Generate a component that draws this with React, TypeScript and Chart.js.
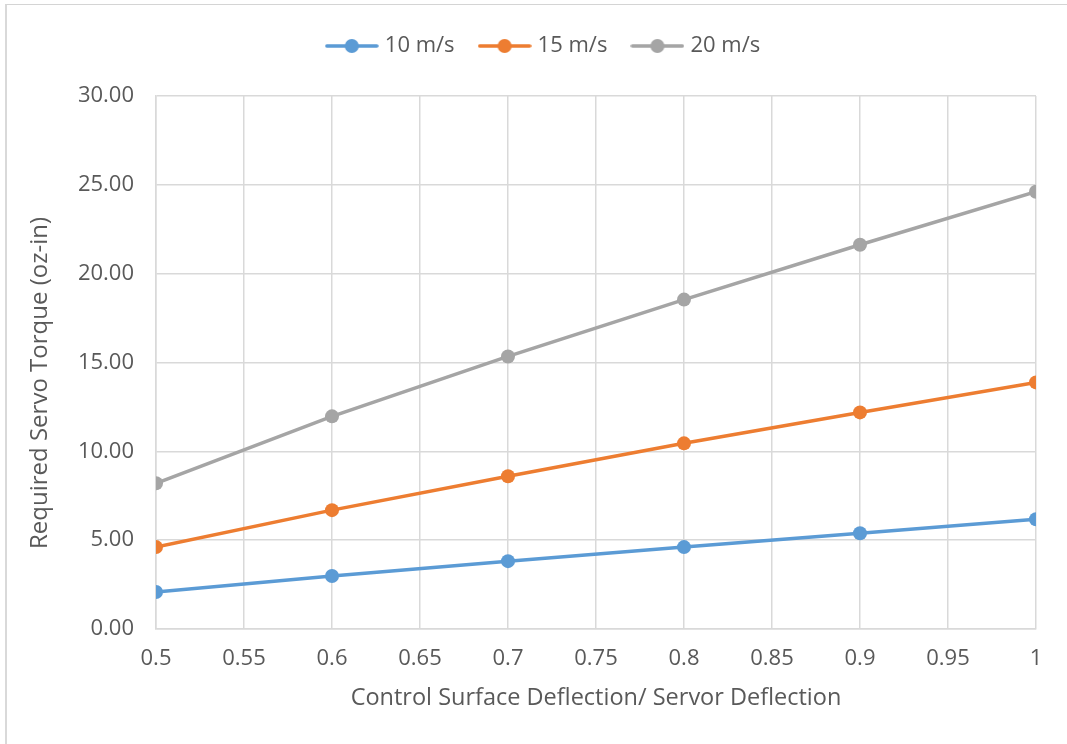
import React, { useEffect, useRef } from "react";
import { Chart, registerables } from "chart.js";

Chart.register(...registerables);

const deflection = [0.5, 0.6, 0.7, 0.8, 0.9, 1.0];
const series10 = [2.08, 2.98, 3.82, 4.61, 5.39, 6.18];
const series15 = [4.61, 6.69, 8.6, 10.45, 12.19, 13.88];
const series20 = [8.2, 11.97, 15.34, 18.54, 21.63, 24.61];
const seriesNames = ["10 m/s", "15 m/s", "20 m/s"];
const seriesColors = ["#5B9BD5", "#ED7D31", "#A5A5A5"];
const xTitle = "Control Surface Deflection/ Servor Deflection";
const yTitle = "Required Servo Torque (oz-in)";

const FONT = "'Open Sans', 'Noto Sans', sans-serif";
const TEXT = "#595959";
const GRID = "#d9d9d9";

function legendImage(color: string) {
  const c = document.createElement("canvas");
  c.width = 54;
  c.height = 16;
  const ctx = c.getContext("2d")!;
  ctx.strokeStyle = color;
  ctx.lineWidth = 3.5;
  ctx.lineCap = "round";
  ctx.beginPath();
  ctx.moveTo(2, 8);
  ctx.lineTo(52, 8);
  ctx.stroke();
  ctx.fillStyle = color;
  ctx.beginPath();
  ctx.arc(27, 8, 7, 0, Math.PI * 2);
  ctx.fill();
  return c;
}

const legendSpacer = {
  id: "legendSpacer",
  beforeInit(chart: any) {
    const lg = chart.legend;
    if (!lg) return;
    const orig = lg.fit;
    lg.fit = function () {
      orig.call(this);
      this.height += 29;
    };
  },
  beforeDraw(chart: any) {
    const lg = chart.legend;
    if (!lg || lg._shifted) return;
    lg.left += 17;
    lg.right += 17;
    lg._shifted = true;
  },
};

const yTitlePlugin = {
  id: "yTitlePlugin",
  afterDraw(chart: any) {
    const ctx = chart.ctx;
    ctx.save();
    ctx.translate(40, 383);
    ctx.rotate(-Math.PI / 2);
    ctx.font = `24px ${FONT}`;
    ctx.fillStyle = TEXT;
    ctx.textAlign = "center";
    ctx.textBaseline = "middle";
    ctx.fillText(yTitle, 0, 0);
    ctx.restore();
  },
};

export default function App() {
  const ref = useRef<HTMLCanvasElement>(null);
  useEffect(() => {
    const all = [series10, series15, series20];
    const imgs = seriesColors.map(legendImage);
    const chart = new Chart(ref.current!, {
      type: "line",
      data: {
        datasets: all.map((vals, i) => ({
          label: seriesNames[i],
          data: deflection.map((x, j) => ({ x, y: vals[j] })),
          borderColor: seriesColors[i],
          backgroundColor: seriesColors[i],
          borderWidth: 3.5,
          pointRadius: 7,
          pointHoverRadius: 7,
          pointBorderWidth: 0,
          pointStyle: "circle",
          tension: 0,
        })),
      },
      plugins: [legendSpacer, yTitlePlugin],
      options: {
        responsive: false,
        animation: false,
        layout: { padding: { left: 20, right: 31, top: 7, bottom: 22 } },
        plugins: {
          tooltip: { enabled: false },
          legend: {
            position: "top",
            labels: {
              usePointStyle: true,
              pointStyleWidth: 44,
              padding: 28,
              color: TEXT,
              font: { family: FONT, size: 22 },
              generateLabels: (ch: any) =>
                ch.data.datasets.map((d: any, i: number) => ({
                  text: d.label,
                  pointStyle: imgs[i],
                  fillStyle: seriesColors[i],
                  strokeStyle: seriesColors[i],
                  lineWidth: 0,
                  fontColor: TEXT,
                  hidden: false,
                  datasetIndex: i,
                })),
            },
          },
        },
        scales: {
          x: {
            type: "linear",
            min: 0.5,
            max: 1,
            ticks: {
              stepSize: 0.05,
              color: TEXT,
              font: { family: FONT, size: 22 },
              padding: 17,
              maxRotation: 0,
              callback: (v: any) => String(Number(Number(v).toFixed(2))),
            },
            grid: { color: GRID, lineWidth: 1.5, drawTicks: false },
            border: { color: GRID, width: 1.5 },
            title: {
              display: true,
              text: xTitle,
              color: TEXT,
              font: { family: FONT, size: 23.5 },
              padding: { top: 8, bottom: 10 },
            },
            afterFit: (s: any) => {
              s.height = 744 - 629 - 22;
            },
          },
          y: {
            min: 0,
            max: 30,
            ticks: {
              stepSize: 5,
              color: TEXT,
              font: { family: FONT, size: 22 },
              padding: 22,
              callback: (v: any) => Number(v).toFixed(2),
            },
            grid: { color: GRID, lineWidth: 1.5, drawTicks: false },
            border: { color: GRID, width: 1.5 },
            title: { display: false },
            afterFit: (s: any) => {
              s.width = 156 - 20;
            },
          },
        },
      },
    });
    return () => chart.destroy();
  }, []);
  return (
    <div
      style={{
        position: "fixed",
        left: 0,
        top: 0,
        width: 1067,
        height: 744,
        background: "#fff",
        overflow: "hidden",
      }}
    >
      <div
        style={{
          position: "absolute",
          left: 5,
          top: 4,
          width: 1100,
          height: 800,
          borderLeft: "2px solid #d9d9d9",
          borderTop: "1px solid #d4d4d4",
        }}
      />
      <canvas
        ref={ref}
        width={1067}
        height={744}
        style={{ position: "absolute", left: 0, top: 0, width: 1067, height: 744 }}
      />
    </div>
  );
}
